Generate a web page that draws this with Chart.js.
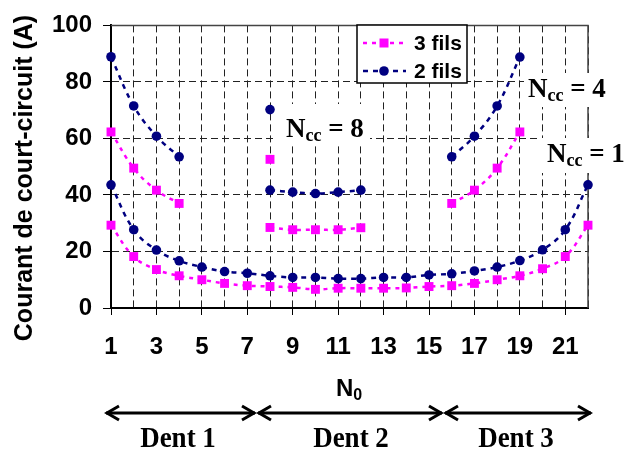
<!DOCTYPE html>
<html>
<head>
<meta charset="utf-8">
<script src="https://cdn.jsdelivr.net/npm/chart.js@4.4.1/dist/chart.umd.min.js"></script>
<style>
  body { margin: 0; background: #fff; }
  canvas { display: block; }
</style>
</head>
<body>
<canvas id="chart" width="631" height="451"></canvas>
<script>
// ***** Data *****
const n0 = [1, 2, 3, 4, 5, 6, 7, 8, 9, 10, 11, 12, 13, 14, 15, 16, 17, 18, 19, 20, 21, 22];
const fils3Ncc1 = [29.3, 18.2, 13.6, 11.4, 10.0, 8.7, 7.9, 7.6, 7.3, 6.6, 7.0, 7.0, 7.0, 7.1, 7.6, 7.9, 8.7, 10.0, 11.4, 13.9, 18.2, 29.3];
const fils2Ncc1 = [43.6, 27.7, 20.5, 16.7, 14.5, 12.9, 12.3, 11.4, 10.8, 10.8, 10.4, 10.4, 10.8, 10.8, 11.7, 12.1, 13.1, 14.5, 16.8, 20.6, 27.7, 43.6];

const n0Ncc4Left = [1, 2, 3, 4];
const fils3Ncc4Left = [62.3, 49.5, 41.7, 37.0];
const fils2Ncc4Left = [88.9, 71.5, 60.8, 53.5];
const n0Ncc4Right = [16, 17, 18, 19];
const fils3Ncc4Right = [37.0, 41.7, 49.5, 62.3];
const fils2Ncc4Right = [53.5, 60.8, 71.5, 88.8];

const n0Ncc8 = [8, 9, 10, 11, 12];
const fils3Ncc8 = [28.5, 27.7, 27.7, 27.7, 28.4];
const fils2Ncc8 = [41.7, 41.0, 40.5, 41.0, 41.7];

const n0Isoles = [8];
const fils3Isoles = [52.6];
const fils2Isoles = [70.2];

const xTickLabels = [1, 3, 5, 7, 9, 11, 13, 15, 17, 19, 21];
const yTicks = [0, 20, 40, 60, 80, 100];
const seriesLabels = ['3 fils', '2 fils'];
const nccLabels = ['8', '4', '1'];
const dentLabels = ['Dent 1', 'Dent 2', 'Dent 3'];
// ***** Data end *****

const magenta = '#FF00FF';
const navy = '#000080';
const sans = '"Liberation Sans", Arial, sans-serif';
const serif = '"Liberation Serif", "Times New Roman", serif';

const pts = (xs, ys) => xs.map((x, i) => ({ x: x, y: ys[i] }));

const style3 = {
  borderColor: magenta,
  backgroundColor: magenta,
  borderWidth: 2.5,
  borderDash: [4, 5],
  pointStyle: 'rect',
  pointRadius: 6.3,
  pointBorderWidth: 0,
  tension: 0.4,
  clip: false
};
const style2 = {
  borderColor: navy,
  backgroundColor: navy,
  borderWidth: 2.5,
  borderDash: [5, 5],
  pointStyle: 'circle',
  pointRadius: 4.8,
  pointBorderWidth: 0,
  tension: 0.4,
  clip: false
};

const datasets = [
  { label: seriesLabels[0], data: pts(n0, fils3Ncc1), ...style3 },
  { label: seriesLabels[1], data: pts(n0, fils2Ncc1), ...style2 },
  { label: 'ncc4a', data: pts(n0Ncc4Left, fils3Ncc4Left), ...style3 },
  { label: 'ncc4b', data: pts(n0Ncc4Right, fils3Ncc4Right), ...style3 },
  { label: 'ncc4c', data: pts(n0Ncc4Left, fils2Ncc4Left), ...style2 },
  { label: 'ncc4d', data: pts(n0Ncc4Right, fils2Ncc4Right), ...style2 },
  { label: 'ncc8a', data: pts(n0Ncc8, fils3Ncc8), ...style3 },
  { label: 'ncc8b', data: pts(n0Ncc8, fils2Ncc8), ...style2 },
  { label: 'isoa', data: pts(n0Isoles, fils3Isoles), ...style3, showLine: false },
  { label: 'isob', data: pts(n0Isoles, fils2Isoles), ...style2, showLine: false }
];

// Frame on top and right of the plot, white boxes behind the Ncc labels
const framePlugin = {
  id: 'frame',
  beforeDatasetsDraw(chart) {
    const { ctx, chartArea: a } = chart;
    ctx.save();
    ctx.strokeStyle = '#444';
    ctx.lineWidth = 1.5;
    ctx.beginPath();
    ctx.moveTo(a.left, a.top);
    ctx.lineTo(a.right, a.top);
    ctx.lineTo(a.right, a.bottom);
    ctx.stroke();
    ctx.fillStyle = '#fff';
    ctx.fillRect(274, 104, 96, 39);
    ctx.fillRect(524, 73, 107, 34);
    ctx.fillRect(541, 138, 90, 35);
    ctx.restore();
  }
};

const drawNcc = (ctx, x, y, value) => {
  ctx.font = 'bold 27px ' + serif;
  ctx.fillText('N', x, y);
  let w = ctx.measureText('N').width;
  ctx.font = 'bold 18px ' + serif;
  ctx.fillText('cc', x + w, y + 4);
  w += ctx.measureText('cc').width;
  ctx.font = 'bold 27px ' + serif;
  ctx.fillText(' = ' + value, x + w, y);
};

const drawArrow = (ctx, x1, x2, y) => {
  ctx.beginPath();
  ctx.moveTo(x1, y);
  ctx.lineTo(x2, y);
  ctx.stroke();
  ctx.beginPath();
  ctx.moveTo(x1 + 13, y - 7);
  ctx.lineTo(x1 + 1, y);
  ctx.lineTo(x1 + 13, y + 7);
  ctx.moveTo(x2 - 13, y - 7);
  ctx.lineTo(x2 - 1, y);
  ctx.lineTo(x2 - 13, y + 7);
  ctx.stroke();
};

const decorPlugin = {
  id: 'decor',
  afterDraw(chart) {
    const { ctx } = chart;
    ctx.save();
    ctx.fillStyle = '#000';

    // y title
    ctx.save();
    ctx.translate(25, 178);
    ctx.rotate(-Math.PI / 2);
    ctx.font = 'bold 25px ' + sans;
    ctx.textAlign = 'center';
    ctx.textBaseline = 'middle';
    ctx.fillText('Courant de court-circuit (A)', 0, 0);
    ctx.restore();

    // x title N0
    ctx.textBaseline = 'alphabetic';
    ctx.textAlign = 'left';
    ctx.font = 'bold 24px ' + sans;
    ctx.fillText('N', 336, 396);
    const wn = ctx.measureText('N').width;
    ctx.font = 'bold 16px ' + sans;
    ctx.fillText('0', 336 + wn, 400);

    // legend box
    ctx.fillStyle = '#fff';
    ctx.fillRect(357, 25, 110, 58);
    ctx.strokeStyle = '#000';
    ctx.lineWidth = 1.5;
    ctx.strokeRect(357, 25, 110, 58);
    [style3, style2].forEach((s, i) => {
      const y = 43 + i * 28;
      ctx.strokeStyle = s.borderColor;
      ctx.lineWidth = 2.5;
      ctx.setLineDash(s.borderDash);
      ctx.beginPath();
      ctx.moveTo(363, y);
      ctx.lineTo(406, y);
      ctx.stroke();
      ctx.setLineDash([]);
      ctx.fillStyle = s.backgroundColor;
      if (s.pointStyle === 'rect') {
        ctx.fillRect(384 - 4.5, y - 4.5, 9, 9);
      } else {
        ctx.beginPath();
        ctx.arc(384, y, 4.8, 0, Math.PI * 2);
        ctx.fill();
      }
      ctx.fillStyle = '#000';
      ctx.font = 'bold 21px ' + sans;
      ctx.textBaseline = 'middle';
      ctx.fillText(seriesLabels[i], 414, y + 1);
    });

    // Ncc annotations
    ctx.textBaseline = 'alphabetic';
    ctx.fillStyle = '#000';
    drawNcc(ctx, 286, 137, nccLabels[0]);
    drawNcc(ctx, 528, 97, nccLabels[1]);
    drawNcc(ctx, 547, 162, nccLabels[2]);

    // teeth arrows and labels
    ctx.strokeStyle = '#000';
    ctx.lineWidth = 3;
    drawArrow(ctx, 106, 255, 413);
    drawArrow(ctx, 258, 442, 413);
    drawArrow(ctx, 445, 591, 413);
    ctx.font = 'bold 27px ' + serif;
    ctx.textAlign = 'center';
    ctx.textBaseline = 'middle';
    [178, 351, 516].forEach((cx, i) => {
      ctx.save();
      ctx.translate(cx, 439);
      ctx.scale(1, 1.12);
      ctx.fillText(dentLabels[i], 0, 0);
      ctx.restore();
    });
    ctx.restore();
  }
};

const configChart = {
  type: 'line',
  data: { datasets: datasets },
  options: {
    responsive: false,
    animation: false,
    layout: { padding: { left: 0, top: 17, right: 43, bottom: 0 } },
    plugins: {
      legend: { display: false },
      tooltip: { enabled: false }
    },
    scales: {
      x: {
        type: 'linear',
        min: 1,
        max: 22,
        afterFit: (scale) => { scale.height = 143; },
        ticks: {
          stepSize: 1,
          autoSkip: false,
          maxRotation: 0,
          padding: 18,
          color: '#000',
          font: { family: sans, size: 24, weight: 'bold' },
          callback: (v) => (xTickLabels.includes(v) ? String(v) : '')
        },
        grid: {
          color: '#222',
          lineWidth: 1,
          tickLength: 7,
          tickColor: (c) => (c.tick && xTickLabels.includes(c.tick.value) ? '#000' : 'rgba(0,0,0,0)')
        },
        border: { display: true, color: '#000', width: 2, dash: [7, 4] }
      },
      y: {
        min: 0,
        max: 100,
        afterFit: (scale) => { scale.width = 111; },
        afterBuildTicks: (scale) => { scale.ticks = yTicks.map((v) => ({ value: v })); },
        ticks: {
          padding: 11,
          color: '#000',
          font: { family: sans, size: 24, weight: 'bold' }
        },
        grid: {
          color: '#222',
          lineWidth: 1,
          tickLength: 8,
          tickColor: '#000'
        },
        border: { display: true, color: '#000', width: 2, dash: [7, 4] }
      }
    }
  },
  plugins: [framePlugin, decorPlugin]
};

const courantChart = new Chart(document.getElementById('chart'), configChart);
</script>
</body>
</html>
